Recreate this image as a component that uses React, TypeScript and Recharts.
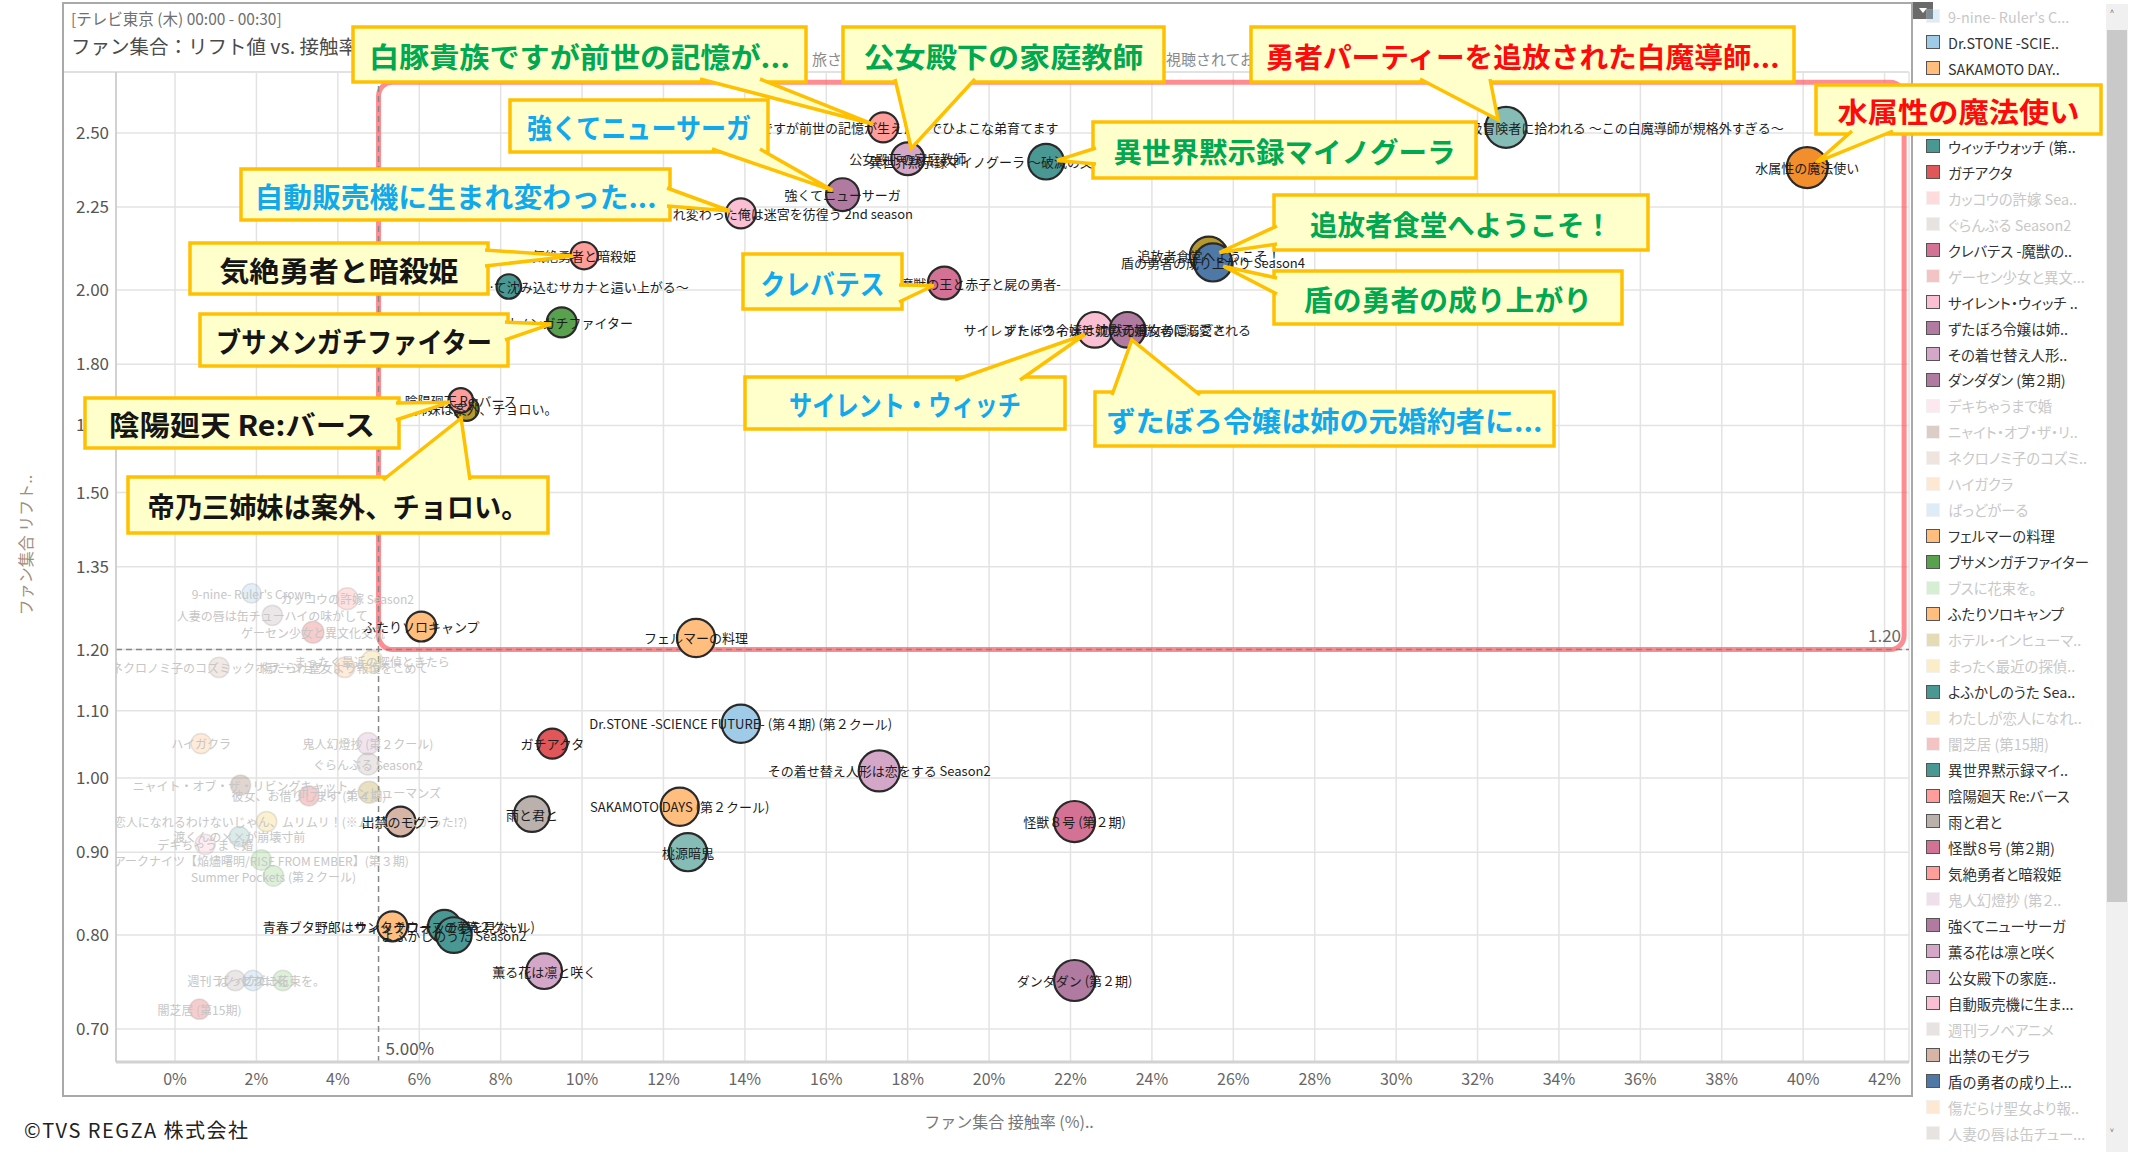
import {
  ScatterChart,
  Scatter,
  XAxis,
  YAxis,
  ZAxis,
  CartesianGrid,
  ReferenceLine,
  ReferenceArea,
  ReferenceDot,
  Cell,
} from "recharts";

const FONT = '"Noto Sans CJK JP", "Noto Sans", sans-serif';

// highlighted titles (drawn opaque)
const highlightedTitles = [
  "白豚貴族ですが前世の記憶が生えたのでひよこな弟育てます",
  "公女殿下の家庭教師",
  "異世界黙示録マイノグーラ 〜破滅の文明で始める世界征服〜",
  "強くてニューサーガ",
  "自動販売機に生まれ変わった俺は迷宮を彷徨う 2nd season",
  "勇者パーティーを追放された白魔導師、S級冒険者に拾われる 〜この白魔導師が規格外すぎる〜",
  "水属性の魔法使い",
  "気絶勇者と暗殺姫",
  "…て沈み込むサカナと這い上がる〜",
  "ブサメンガチファイター",
  "帝乃三姉妹は案外、チョロい。",
  "陰陽廻天 Re:バース",
  "クレバテス -魔獣の王と赤子と屍の勇者-",
  "追放者食堂へようこそ！",
  "盾の勇者の成り上がり Season4",
  "サイレント・ウィッチ 沈黙の魔女の隠しごと",
  "ずたぼろ令嬢は姉の元婚約者に溺愛される",
  "ふたりソロキャンプ",
  "フェルマーの料理",
  "Dr.STONE -SCIENCE FUTURE- (第４期) (第２クール)",
  "ガチアクタ",
  "その着せ替え人形は恋をする Season2",
  "SAKAMOTO DAYS (第２クール)",
  "雨と君と",
  "出禁のモグラ",
  "怪獣８号 (第２期)",
  "桃源暗鬼",
  "青春ブタ野郎はサンタクロースの夢を見ない",
  "ウィッチウォッチ (第２クール)",
  "よふかしのうた Season2",
  "薫る花は凛と咲く",
  "ダンダダン (第２期)",
];
// 接触率 (%)
const highlightedReach = [
  17.4, 18.0, 21.4, 16.4, 13.9, 32.7, 40.1, 10.05, 8.2, 9.5, 7.16, 7.02, 18.9,
  25.4, 25.5, 22.6, 23.4, 6.05, 12.8, 13.9, 9.27, 17.3, 12.4, 8.77, 5.54, 22.1,
  12.6, 5.34, 6.62, 6.85, 9.07, 22.1,
];
// リフト値
const highlightedLift = [
  2.52, 2.41, 2.4, 2.29, 2.23, 2.52, 2.38, 2.1, 2.01, 1.91, 1.69, 1.71, 2.02,
  2.1, 2.08, 1.89, 1.89, 1.24, 1.22, 1.08, 1.05, 1.01, 0.96, 0.95, 0.94, 0.94,
  0.9, 0.81, 0.81, 0.8, 0.76, 0.75,
];
const highlightedVolume = [
  48, 58, 68, 58, 48, 90, 90, 40, 32, 48, 32, 32, 58, 78, 78, 68, 68, 48, 78,
  78, 48, 90, 78, 68, 48, 90, 78, 48, 58, 68, 68, 90,
];

// titles drawn faded
const otherTitles = [
  "9-nine- Ruler's Crown",
  "カッコウの許嫁 Season2",
  "人妻の唇は缶チューハイの味がして",
  "ゲーセン少女と異文化交流",
  "ネクロノミ子のコズミックホラーショウ",
  "傷だらけ聖女より報復をこめて",
  "まったく最近の探偵ときたら",
  "ハイガクラ",
  "鬼人幻燈抄 (第２クール)",
  "ぐらんぶる Season2",
  "ニャイト・オブ・ザ・リビングキャット",
  "彼女、お借りします (第４期)",
  "ホテル・インヒューマンズ",
  "わたしが恋人になれるわけないじゃん、ムリムリ！(※ムリじゃなかった!?)",
  "渡くんの××が崩壊寸前",
  "デキちゃうまで婚",
  "アークナイツ【焔燼曙明/RISE FROM EMBER】(第３期)",
  "Summer Pockets (第２クール)",
  "週刊ラノベアニメ",
  "ばっどがーる",
  "ブスに花束を。",
  "闇芝居 (第15期)",
];
const otherReach = [
  1.88, 4.23, 2.39, 3.39, 1.08, 4.17, 4.84, 0.64, 4.74, 4.74, 1.61, 3.29, 4.77,
  2.25, 1.58, 0.74, 2.12, 2.42, 1.48, 1.92, 2.65, 0.6,
];
const otherLift = [
  1.3, 1.29, 1.26, 1.23, 1.17, 1.17, 1.18, 1.05, 1.05, 1.02, 0.99, 0.975, 0.98,
  0.94, 0.92, 0.91, 0.89, 0.87, 0.75, 0.75, 0.75, 0.72,
];
const otherVolume = [
  20, 26, 22, 26, 22, 22, 26, 22, 26, 26, 22, 22, 26, 22, 22, 22, 22, 22, 22,
  22, 22, 22,
];

const xTicks = [0, 2, 4, 6, 8, 10, 12, 14, 16, 18, 20, 22, 24, 26, 28, 30, 32, 34, 36, 38, 40, 42];
const yTicks = [0.7, 0.8, 0.9, 1.0, 1.1, 1.2, 1.35, 1.5, 1.65, 1.8, 2.0, 2.25, 2.5];

// legend rows as shown in the (scrolled) legend panel
const legendLabels = [
  "9-nine- Ruler's C...",
  "Dr.STONE -SCIE..",
  "SAKAMOTO DAY..",
  "Summer Pockets (...",
  "アークナイツ【焔燼...",
  "ウィッチウォッチ (第..",
  "ガチアクタ",
  "カッコウの許嫁 Sea..",
  "ぐらんぶる Season2",
  "クレバテス -魔獣の..",
  "ゲーセン少女と異文...",
  "サイレント・ウィッチ ..",
  "ずたぼろ令嬢は姉..",
  "その着せ替え人形..",
  "ダンダダン (第２期)",
  "デキちゃうまで婚",
  "ニャイト・オブ・ザ・リ..",
  "ネクロノミ子のコズミ..",
  "ハイガクラ",
  "ばっどがーる",
  "フェルマーの料理",
  "ブサメンガチファイター",
  "ブスに花束を。",
  "ふたりソロキャンプ",
  "ホテル・インヒューマ..",
  "まったく最近の探偵..",
  "よふかしのうた Sea..",
  "わたしが恋人になれ..",
  "闇芝居 (第15期)",
  "異世界黙示録マイ..",
  "陰陽廻天 Re:バース",
  "雨と君と",
  "怪獣８号 (第２期)",
  "気絶勇者と暗殺姫",
  "鬼人幻燈抄 (第２..",
  "強くてニューサーガ",
  "薫る花は凛と咲く",
  "公女殿下の家庭..",
  "自動販売機に生ま...",
  "週刊ラノベアニメ",
  "出禁のモグラ",
  "盾の勇者の成り上...",
  "傷だらけ聖女より報..",
  "人妻の唇は缶チュー...",
];

const titleColors: Record<string, string> = {
  "白豚貴族ですが前世の記憶が生えたのでひよこな弟育てます": "#FF9D9A",
  "公女殿下の家庭教師": "#D4A6C8",
  "異世界黙示録マイノグーラ 〜破滅の文明で始める世界征服〜": "#499894",
  "強くてニューサーガ": "#B07AA1",
  "自動販売機に生まれ変わった俺は迷宮を彷徨う 2nd season": "#FABFD2",
  "勇者パーティーを追放された白魔導師、S級冒険者に拾われる 〜この白魔導師が規格外すぎる〜": "#86BCB6",
  "水属性の魔法使い": "#F28E2B",
  "気絶勇者と暗殺姫": "#FF9D9A",
  "…て沈み込むサカナと這い上がる〜": "#499894",
  "ブサメンガチファイター": "#59A14F",
  "帝乃三姉妹は案外、チョロい。": "#B6992D",
  "陰陽廻天 Re:バース": "#FF9D9A",
  "クレバテス -魔獣の王と赤子と屍の勇者-": "#D37295",
  "追放者食堂へようこそ！": "#B6992D",
  "盾の勇者の成り上がり Season4": "#4E79A7",
  "サイレント・ウィッチ 沈黙の魔女の隠しごと": "#FABFD2",
  "ずたぼろ令嬢は姉の元婚約者に溺愛される": "#B07AA1",
  "ふたりソロキャンプ": "#FFBE7D",
  "フェルマーの料理": "#FFBE7D",
  "Dr.STONE -SCIENCE FUTURE- (第４期) (第２クール)": "#A0CBE8",
  "ガチアクタ": "#E15759",
  "その着せ替え人形は恋をする Season2": "#D4A6C8",
  "SAKAMOTO DAYS (第２クール)": "#FFBE7D",
  "雨と君と": "#BAB0AC",
  "出禁のモグラ": "#D7B5A6",
  "怪獣８号 (第２期)": "#D37295",
  "桃源暗鬼": "#86BCB6",
  "青春ブタ野郎はサンタクロースの夢を見ない": "#FFBE7D",
  "ウィッチウォッチ (第２クール)": "#499894",
  "よふかしのうた Season2": "#499894",
  "薫る花は凛と咲く": "#D4A6C8",
  "ダンダダン (第２期)": "#B07AA1",
  "9-nine- Ruler's Crown": "#A0CBE8",
  "カッコウの許嫁 Season2": "#FF9D9A",
  "人妻の唇は缶チューハイの味がして": "#BAB0AC",
  "ゲーセン少女と異文化交流": "#E15759",
  "ネクロノミ子のコズミックホラーショウ": "#D7B5A6",
  "傷だらけ聖女より報復をこめて": "#FFBE7D",
  "まったく最近の探偵ときたら": "#F1CE63",
  "ハイガクラ": "#FFBE7D",
  "鬼人幻燈抄 (第２クール)": "#D4A6C8",
  "ぐらんぶる Season2": "#BAB0AC",
  "ニャイト・オブ・ザ・リビングキャット": "#9D7660",
  "彼女、お借りします (第４期)": "#E15759",
  "ホテル・インヒューマンズ": "#B6992D",
  "わたしが恋人になれるわけないじゃん、ムリムリ！(※ムリじゃなかった!?)": "#F1CE63",
  "渡くんの××が崩壊寸前": "#86BCB6",
  "デキちゃうまで婚": "#FABFD2",
  "アークナイツ【焔燼曙明/RISE FROM EMBER】(第３期)": "#8CD17D",
  "Summer Pockets (第２クール)": "#8CD17D",
  "週刊ラノベアニメ": "#BAB0AC",
  "ばっどがーる": "#A0CBE8",
  "ブスに花束を。": "#8CD17D",
  "闇芝居 (第15期)": "#E15759",
};

// label nudges (px) where the mark label is not centred
const labelShift: Record<string, number> = {
  "…て沈み込むサカナと這い上がる〜": 76,
};

const GREEN = "#00A84F";
const BLUE = "#12A9EC";
const RED = "#FF0A0A";
const BLACK = "#151515";

type Callout = {
  target: string;
  text: string;
  color: string;
  box: [number, number, number, number];
  edge: "top" | "bottom" | "left" | "right";
  base: [number, number];
  textWidth: number;
};

const callouts: Callout[] = [
  { target: highlightedTitles[0], text: "白豚貴族ですが前世の記憶が...", color: GREEN, box: [353, 27, 453, 55], edge: "bottom", base: [700, 760], textWidth: 421 },
  { target: highlightedTitles[1], text: "公女殿下の家庭教師", color: GREEN, box: [843, 27, 321, 55], edge: "bottom", base: [895, 975], textWidth: 280 },
  { target: highlightedTitles[5], text: "勇者パーティーを追放された白魔導師...", color: RED, box: [1251, 27, 543, 55], edge: "bottom", base: [1420, 1490], textWidth: 514 },
  { target: highlightedTitles[6], text: "水属性の魔法使い", color: RED, box: [1816, 85, 285, 49], edge: "bottom", base: [1852, 1893], textWidth: 242 },
  { target: highlightedTitles[3], text: "強くてニューサーガ", color: BLUE, box: [510, 100, 258, 52], edge: "bottom", base: [712, 760], textWidth: 224 },
  { target: highlightedTitles[4], text: "自動販売機に生まれ変わった...", color: BLUE, box: [241, 169, 429, 51], edge: "right", base: [188, 206], textWidth: 402 },
  { target: highlightedTitles[2], text: "異世界黙示録マイノグーラ", color: GREEN, box: [1093, 122, 383, 56], edge: "left", base: [148, 164], textWidth: 342 },
  { target: highlightedTitles[13], text: "追放者食堂へようこそ！", color: GREEN, box: [1274, 195, 374, 55], edge: "left", base: [226, 244], textWidth: 302 },
  { target: highlightedTitles[14], text: "盾の勇者の成り上がり", color: GREEN, box: [1274, 271, 348, 53], edge: "left", base: [278, 294], textWidth: 288 },
  { target: highlightedTitles[12], text: "クレバテス", color: BLUE, box: [743, 254, 159, 55], edge: "right", base: [285, 302], textWidth: 124 },
  { target: highlightedTitles[7], text: "気絶勇者と暗殺姫", color: BLACK, box: [190, 243, 298, 51], edge: "right", base: [250, 266], textWidth: 239 },
  { target: highlightedTitles[9], text: "ブサメンガチファイター", color: BLACK, box: [200, 314, 308, 52], edge: "right", base: [322, 340], textWidth: 276 },
  { target: highlightedTitles[11], text: "陰陽廻天 Re:バース", color: BLACK, box: [85, 398, 314, 50], edge: "right", base: [403, 420], textWidth: 266 },
  { target: highlightedTitles[10], text: "帝乃三姉妹は案外、チョロい。", color: BLACK, box: [128, 477, 420, 56], edge: "top", base: [383, 470], textWidth: 381 },
  { target: highlightedTitles[15], text: "サイレント・ウィッチ", color: BLUE, box: [745, 377, 320, 52], edge: "top", base: [955, 1020], textWidth: 232 },
  { target: highlightedTitles[16], text: "ずたぼろ令嬢は姉の元婚約者に...", color: BLUE, box: [1095, 392, 459, 54], edge: "top", base: [1112, 1200], textWidth: 436 },
];

const highlighted = highlightedTitles.map((title, i) => ({
  title,
  reach: highlightedReach[i],
  lift: highlightedLift[i],
  volume: highlightedVolume[i],
}));
const others = otherTitles.map((title, i) => ({
  title,
  reach: otherReach[i],
  lift: otherLift[i],
  volume: otherVolume[i],
}));

function CalloutShape({ cx, cy, c }: { cx: number; cy: number; c: Callout }) {
  const [bx, by, bw, bh] = c.box;
  const inset = 3;
  let p1: [number, number];
  let p2: [number, number];
  if (c.edge === "bottom") {
    p1 = [c.base[0], by + bh - inset];
    p2 = [c.base[1], by + bh - inset];
  } else if (c.edge === "top") {
    p1 = [c.base[0], by + inset];
    p2 = [c.base[1], by + inset];
  } else if (c.edge === "left") {
    p1 = [bx + inset, c.base[0]];
    p2 = [bx + inset, c.base[1]];
  } else {
    p1 = [bx + bw - inset, c.base[0]];
    p2 = [bx + bw - inset, c.base[1]];
  }
  const mx = (p1[0] + p2[0]) / 2;
  const my = (p1[1] + p2[1]) / 2;
  const len = Math.hypot(mx - cx, my - cy) || 1;
  const tx = cx + ((mx - cx) / len) * 11;
  const ty = cy + ((my - cy) / len) * 11;
  return (
    <g>
      <rect x={bx} y={by} width={bw} height={bh} fill="#FFFFCC" stroke="#FFC000" strokeWidth={3.5} />
      <path
        d={`M${p1[0]},${p1[1]} L${tx},${ty} L${p2[0]},${p2[1]}`}
        fill="#FFFFCC"
        stroke="#FFC000"
        strokeWidth={3.5}
      />
      <text
        x={bx + bw / 2}
        y={by + bh / 2 + 1}
        textAnchor="middle"
        dominantBaseline="central"
        fontSize={28}
        fontWeight={700}
        fontFamily={FONT}
        fill={c.color}
        textLength={c.textWidth}
        lengthAdjust="spacingAndGlyphs"
      >
        {c.text}
      </text>
    </g>
  );
}

const markLabel = (dim: boolean) => (props: any) => {
  const title: string = props.payload?.title ?? props.title;
  const dx = labelShift[title] ?? 0;
  return (
    <text
      x={props.cx + dx}
      y={props.cy}
      textAnchor="middle"
      dominantBaseline="central"
      fontSize={dim ? 12 : 13}
      fontFamily={FONT}
      fill={dim ? "#c6c6c6" : "#1c1c1c"}
    >
      {title}
    </text>
  );
};

const allTitles = [...highlightedTitles, ...otherTitles];

function legendTitle(label: string) {
  const prefix = label.replace(/\.+$/, "");
  return allTitles.find((t) => t.startsWith(prefix)) ?? label;
}

function TableauLegend() {
  return (
    <div style={{ position: "absolute", left: 1914, top: 0, width: 192, height: 1156, overflow: "hidden" }}>
      {legendLabels.map((label, i) => {
        const title = legendTitle(label);
        const dim = otherTitles.includes(title);
        const color = titleColors[title] ?? "#ccc";
        return (
          <div
            key={label}
            style={{
              position: "absolute",
              left: 12,
              top: 16.4 + i * 25.97 - 12,
              height: 24,
              display: "flex",
              alignItems: "center",
              whiteSpace: "nowrap",
            }}
          >
            <div
              style={{
                width: 12,
                height: 12,
                background: color,
                border: `1.5px solid ${dim ? "#d8d8d8" : "#555"}`,
                opacity: dim ? 0.35 : 1,
                marginRight: 8,
              }}
            />
            <span
              style={{
                fontSize: 14.4,
                fontFeatureSettings: '"palt"',
                color: dim ? "#c8c8c8" : "#333",
                fontFamily: FONT,
              }}
            >
              {label}
            </span>
          </div>
        );
      })}
    </div>
  );
}

export default function App() {
  return (
    <div style={{ position: "relative", width: 2143, height: 1156, background: "#fff", fontFamily: FONT, overflow: "hidden" }}>
      <style>{"body{margin:0}"}</style>

      {/* frame and header */}
      <div style={{ position: "absolute", left: 62, top: 2, width: 1847, height: 1091, border: "2px solid #a9a9a9" }} />
      <div style={{ position: "absolute", left: 64, top: 71, width: 1845, height: 2, background: "#e0e0e0" }} />
      <div style={{ position: "absolute", left: 71, top: 7, fontSize: 15.5, color: "#707070", whiteSpace: "nowrap" }}>
        [テレビ東京 (木) 00:00 - 00:30]
      </div>
      <div style={{ position: "absolute", left: 71, top: 31, fontSize: 19.5, color: "#4a4a4a", whiteSpace: "nowrap" }}>
        ファン集合：リフト値 vs. 接触率
      </div>
      <div style={{ position: "absolute", left: 812, top: 48, fontSize: 15, color: "#8a8a8a", whiteSpace: "nowrap" }}>旅さ</div>
      <div style={{ position: "absolute", left: 1166, top: 48, fontSize: 15, color: "#8a8a8a", whiteSpace: "nowrap" }}>視聴されてお</div>

      {/* legend panel */}
      <div style={{ position: "absolute", left: 1913, top: 2, width: 20, height: 17, background: "#6a6a6a" }}>
        <div style={{ position: "absolute", left: 6, top: 6, width: 0, height: 0, borderLeft: "4px solid transparent", borderRight: "4px solid transparent", borderTop: "5px solid #fff" }} />
      </div>
      <TableauLegend />
      <div style={{ position: "absolute", left: 2106, top: 4, width: 22, height: 1148, background: "#f0f0f0" }} />
      <div style={{ position: "absolute", left: 2107, top: 30, width: 20, height: 872, background: "#c9c9c9" }} />
      <div style={{ position: "absolute", left: 2110, top: 5, fontSize: 14, color: "#555" }}>˄</div>
      <div style={{ position: "absolute", left: 2110, top: 1124, fontSize: 14, color: "#555" }}>˅</div>

      {/* axis titles and credit */}
      <div
        style={{
          position: "absolute",
          left: 25,
          top: 545,
          transform: "translate(-50%, -50%) rotate(-90deg)",
          fontSize: 16,
          color: "#a08f7e",
          whiteSpace: "nowrap",
        }}
      >
        ファン集合 リフト..
      </div>
      <div style={{ position: "absolute", left: 1009, top: 1121, transform: "translate(-50%, -50%)", fontSize: 16, color: "#777", whiteSpace: "nowrap" }}>
        ファン集合 接触率 (%)..
      </div>
      <div style={{ position: "absolute", left: 24, top: 1115, fontSize: 20, letterSpacing: 1.5, color: "#222", whiteSpace: "nowrap" }}>
        ©TVS REGZA 株式会社
      </div>

      <div style={{ position: "absolute", left: 0, top: 0, width: 2143, height: 1156, zIndex: 1 }}>
        <ScatterChart width={2143} height={1156} margin={{ top: 72, right: 234, bottom: 64, left: 56 }}>
          <CartesianGrid stroke="#e3e3e3" strokeWidth={1.5} />
          <XAxis
            type="number"
            dataKey="reach"
            domain={[-1.45, 42.6]}
            allowDataOverflow
            ticks={xTicks}
            tickFormatter={(v: number) => `${v}%`}
            height={30}
            tickSize={0}
            tickMargin={12}
            axisLine={{ stroke: "#d2d2d2", strokeWidth: 3 }}
            tick={{ fill: "#666", fontSize: 16, fontFamily: FONT }}
          />
          <YAxis
            type="number"
            dataKey="lift"
            scale="log"
            domain={[0.668, 2.726]}
            allowDataOverflow
            ticks={yTicks}
            tickFormatter={(v: number) => v.toFixed(2)}
            width={60}
            tickSize={0}
            tickMargin={7}
            axisLine={{ stroke: "#c8c8c8", strokeWidth: 1.5 }}
            tick={{ fill: "#555", fontSize: 17, fontFamily: FONT }}
          />
          <ZAxis type="number" dataKey="volume" domain={[0, 100]} range={[0, 1467]} />

          <ReferenceLine
            x={5}
            stroke="#888"
            strokeDasharray="6 4"
            strokeWidth={1.5}
            label={{ value: "5.00%", position: "insideBottomLeft", offset: 7, fill: "#555", fontSize: 17, fontFamily: FONT }}
          />
          <ReferenceLine
            y={1.2}
            stroke="#888"
            strokeDasharray="6 4"
            strokeWidth={1.5}
            label={{ value: "1.20", position: "insideBottomRight", offset: 8, fill: "#666", fontSize: 17, fontFamily: FONT }}
          />
          <ReferenceArea
            x1={5}
            x2={42.48}
            y1={1.2}
            y2={2.687}
            shape={(p: any) => (
              <rect
                x={p.x}
                y={p.y}
                width={p.width}
                height={p.height}
                rx={14}
                fill="none"
                stroke="#FF5B62"
                strokeOpacity={0.7}
                strokeWidth={5}
              />
            )}
          />

          <Scatter data={others} isAnimationActive={false}>
            {others.map((d) => (
              <Cell
                key={d.title}
                fill={titleColors[d.title]}
                fillOpacity={0.3}
                stroke="#9a9a9a"
                strokeOpacity={0.25}
                strokeWidth={1.5}
              />
            ))}
          </Scatter>
          <Scatter data={highlighted} isAnimationActive={false}>
            {highlighted.map((d) => (
              <Cell key={d.title} fill={titleColors[d.title]} stroke="#2a2a2a" strokeWidth={2.2} />
            ))}
          </Scatter>
          <Scatter data={others} isAnimationActive={false} shape={markLabel(true)} />
          <Scatter data={highlighted} isAnimationActive={false} shape={markLabel(false)} />

          {callouts.map((c) => {
            const i = highlightedTitles.indexOf(c.target);
            return (
              <ReferenceDot
                key={c.text}
                x={highlightedReach[i]}
                y={highlightedLift[i]}
                r={0}
                zIndex={3000}
                shape={(p: any) => <CalloutShape cx={p.cx} cy={p.cy} c={c} />}
              />
            );
          })}
        </ScatterChart>
      </div>
    </div>
  );
}
